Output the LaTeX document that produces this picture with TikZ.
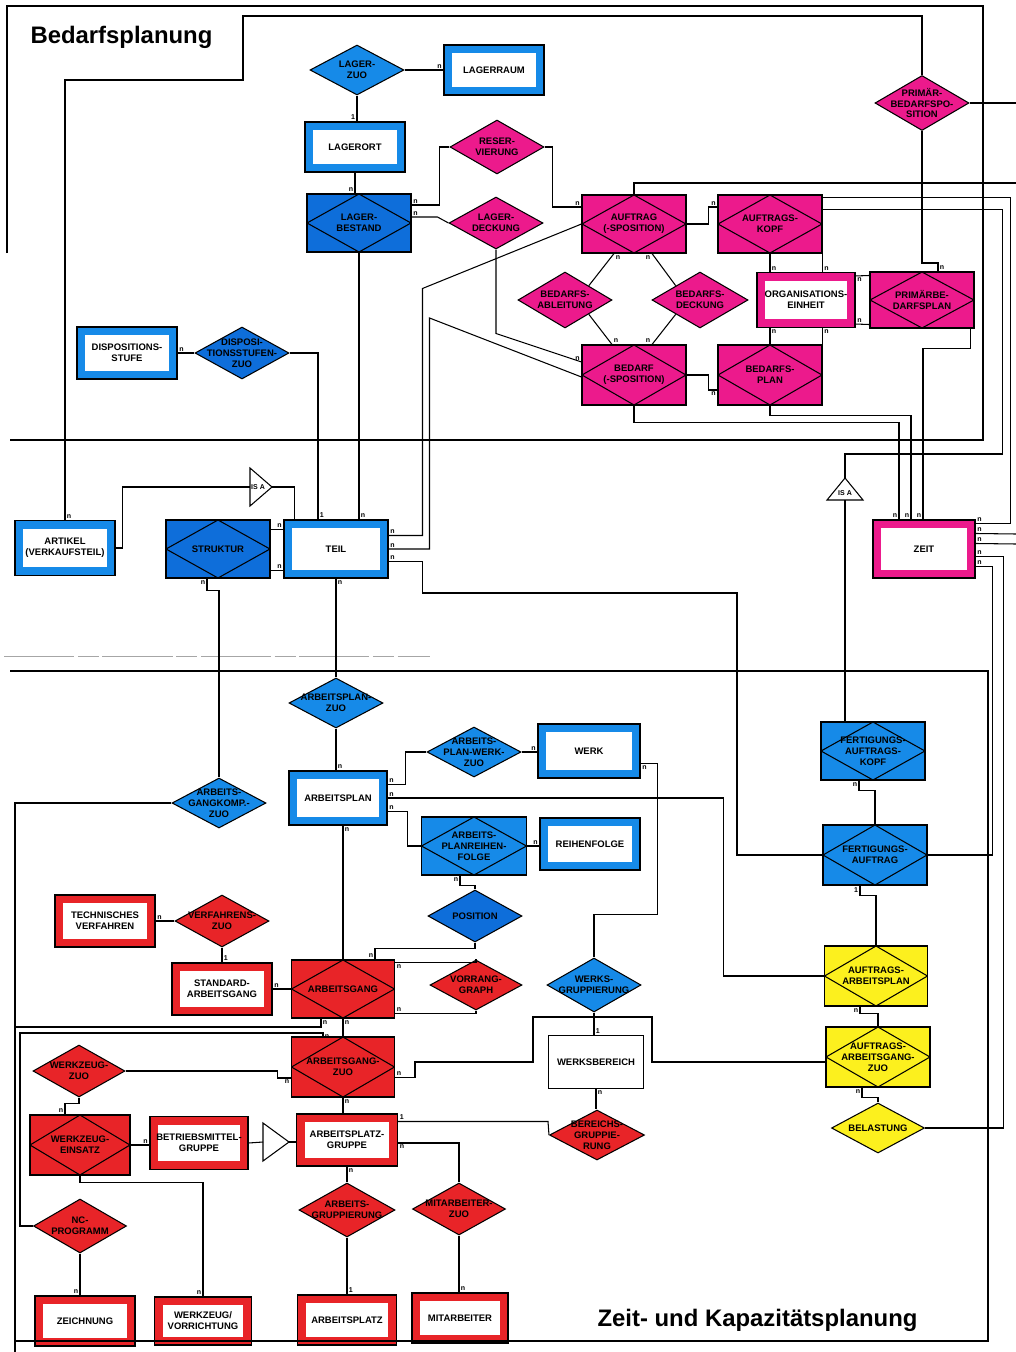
\documentclass[tikz,border=0pt]{standalone}
\usepackage{fontspec}
\setmainfont{Liberation Sans}
\usetikzlibrary{calc,shapes.geometric}
\definecolor{erblue}{RGB}{22,138,232}
\definecolor{erdarkblue}{RGB}{14,110,218}
\definecolor{ermagenta}{RGB}{236,26,140}
\definecolor{erred}{RGB}{232,36,40}
\definecolor{eryellow}{RGB}{252,240,30}
\newcommand{\erfont}{\bfseries\fontsize{5.4}{6.2}\selectfont}
\newcommand{\cardfont}{\bfseries\fontsize{4}{4}\selectfont}

\begin{document}
\begin{tikzpicture}[x=.02cm,y=-.02cm,line width=.6pt,
    entity/.style={draw=black,fill=white,line width=.6pt,minimum width=2cm,minimum height=1.06cm,inner sep=0pt,font=\erfont,align=center,
      path picture={\draw[#1,line width=9.5pt] (path picture bounding box.south west) rectangle (path picture bounding box.north east);}},
    relent/.style={draw=black,fill=#1,line width=.6pt,minimum width=2.08cm,minimum height=1.16cm,inner sep=0pt,font=\erfont,align=center,
      path picture={\draw[black,line width=.6pt] (path picture bounding box.north) -- (path picture bounding box.east)
        -- (path picture bounding box.south) -- (path picture bounding box.west) -- cycle;}},
    rel/.style={diamond,draw=black,fill=#1,line width=.6pt,minimum width=1.88cm,minimum height=1.04cm,inner sep=0pt},
    lbl/.style={font=\erfont,align=center,inner sep=0pt},
    card/.style={font=\cardfont,inner sep=.8pt},
    frame/.style={line width=1.1pt},
    title/.style={font=\bfseries\fontsize{13.6}{15}\selectfont,anchor=base west,inner sep=0pt}]
  \useasboundingbox (0,0) rectangle (1016,1352);

  % Bedarfsplanung
  \node[title] (titlebedarf) at (30,43) {Bedarfsplanung};
  \node[rel=erblue,minimum height=1cm,label={[lbl]center:{LAGER-\\ZUO}}] (lagerzuo) at (357,70) {};
  \node[entity=erblue,minimum height=1cm] (lagerraum) at (494,70) {LAGERRAUM};
  \node[entity=erblue,minimum height=1cm] (lagerort) at (355,147) {LAGERORT};
  \node[relent=erdarkblue] (lagerbestand) at (359,223) {LAGER-\\BESTAND};
  \node[rel=ermagenta,minimum height=1.08cm,label={[lbl]center:{RESER-\\VIERUNG}}] (reservierung) at (497,147) {};
  \node[rel=ermagenta,label={[lbl]center:{LAGER-\\DECKUNG}}] (lagerdeckung) at (496,223) {};
  \node[relent=ermagenta] (auftragpos) at (634,224) {AUFTRAG\\(-SPOSITION)};
  \node[relent=ermagenta] (auftragskopf) at (770,224) {AUFTRAGS-\\KOPF};
  \node[rel=ermagenta,minimum height=1.1cm,label={[lbl]center:{PRIMÄR-\\BEDARFSPO-\\SITION}}] (primpos) at (922,103) {};
  \node[rel=ermagenta,minimum height=1.12cm,label={[lbl]center:{BEDARFS-\\ABLEITUNG}}] (ableitung) at (565,300) {};
  \node[rel=ermagenta,minimum width=1.92cm,minimum height=1.12cm,label={[lbl]center:{BEDARFS-\\DECKUNG}}] (deckung) at (700,300) {};
  \node[entity=ermagenta,minimum width=1.96cm,minimum height=1.1cm] (orgeinheit) at (806,300) {ORGANISATIONS-\\EINHEIT};
  \node[relent=ermagenta,minimum height=1.12cm] (primplan) at (922,300) {PRIMÄRBE-\\DARFSPLAN};
  \node[relent=ermagenta,minimum height=1.2cm] (bedarfpos) at (634,375) {BEDARF\\(-SPOSITION)};
  \node[relent=ermagenta,minimum height=1.2cm] (bedarfsplan) at (770,375) {BEDARFS-\\PLAN};
  \node[entity=erblue,minimum height=1.04cm] (dispostufe) at (127,353) {DISPOSITIONS-\\STUFE};
  \node[rel=erdarkblue,label={[lbl]center:{DISPOSI-\\TIONSSTUFEN-\\ZUO}}] (dispozuo) at (242,353) {};

  % Teil, Artikel, Zeit
  \node[entity=erblue,minimum height=1.1cm] (artikel) at (65,548) {ARTIKEL\\(VERKAUFSTEIL)};
  \node[relent=erdarkblue] (struktur) at (218,549) {STRUKTUR};
  \node[entity=erblue,minimum width=2.08cm,minimum height=1.16cm] (teil) at (336,549) {TEIL};
  \node[entity=ermagenta,minimum width=2.04cm,minimum height=1.16cm] (zeit) at (924,549) {ZEIT};
  \coordinate (isaoneleft) at (250,487);
  \coordinate (isaoneright) at (272,487);
  \draw[fill=white] (250,468) -- (isaoneright) -- (250,506) -- cycle;
  \node[card] (isaonetxt) at (258,487) {IS A};
  \coordinate (isatwotop) at (845,478);
  \coordinate (isatwobot) at (845,500);
  \draw[fill=white] (827,500) -- (isatwotop) -- (863,500) -- cycle;
  \node[card] (isatwotxt) at (845,493) {IS A};

  % Zeit- und Kapazitaetsplanung
  \node[title] (titlezeit) at (597,1326) {Zeit- und Kapazitätsplanung};
  \node[rel=erblue,minimum height=1cm,label={[lbl]center:{ARBEITSPLAN-\\ZUO}}] (apzuo) at (336,703) {};
  \node[entity=erblue,minimum width=1.96cm,minimum height=1.08cm] (arbeitsplan) at (338,798) {ARBEITSPLAN};
  \node[rel=erblue,minimum height=1cm,label={[lbl]center:{ARBEITS-\\PLAN-WERK-\\ZUO}}] (apwerkzuo) at (474,752) {};
  \node[entity=erblue,minimum width=2.04cm,minimum height=1.08cm] (werk) at (589,751) {WERK};
  \node[relent=erblue,minimum width=2.1cm] (apreihenfolge) at (474,846) {ARBEITS-\\PLANREIHEN-\\FOLGE};
  \node[entity=erblue,minimum height=1.04cm] (reihenfolge) at (590,844) {REIHENFOLGE};
  \node[rel=erdarkblue,label={[lbl]center:{POSITION}}] (position) at (475,916) {};
  \node[rel=erblue,minimum height=1cm,label={[lbl]center:{ARBEITS-\\GANGKOMP.-\\ZUO}}] (agkompzuo) at (219,803) {};
  \node[entity=erred,minimum height=1.04cm] (techverf) at (105,921) {TECHNISCHES\\VERFAHREN};
  \node[rel=erred,label={[lbl]center:{VERFAHRENS-\\ZUO}}] (verfzuo) at (222,921) {};
  \node[entity=erred,minimum height=1.04cm] (stdag) at (222,989) {STANDARD-\\ARBEITSGANG};
  \node[relent=erred,minimum width=2.06cm] (arbeitsgang) at (343,989) {ARBEITSGANG};
  \node[rel=erred,minimum width=1.84cm,minimum height=1cm,label={[lbl]center:{VORRANG-\\GRAPH}}] (vorrang) at (476,985) {};
  \node[rel=erblue,minimum height=1.08cm,label={[lbl]center:{WERKS-\\GRUPPIERUNG}}] (werksgrp) at (594,985) {};
  \node[draw,fill=white,line width=.6pt,minimum width=1.9cm,minimum height=1.06cm,font=\erfont] (werksbereich) at (596,1062) {WERKSBEREICH};
  \node[relent=erred,minimum width=2.06cm,minimum height=1.2cm] (agzuo) at (343,1067) {ARBEITSGANG-\\ZUO};
  \node[rel=erred,minimum width=1.84cm,label={[lbl]center:{WERKZEUG-\\ZUO}}] (werkzeugzuo) at (79,1071) {};
  \node[relent=erred,minimum width=2cm,minimum height=1.2cm] (werkzeugeinsatz) at (80,1145) {WERKZEUG-\\EINSATZ};
  \node[entity=erred,minimum width=1.96cm] (bmgruppe) at (199,1143) {BETRIEBSMITTEL-\\GRUPPE};
  \coordinate (isathreeleft) at (263,1142);
  \coordinate (isathreeright) at (289,1142);
  \draw[fill=white] (263,1123) -- (isathreeright) -- (263,1161) -- cycle;
  \node[entity=erred,minimum width=2.02cm,minimum height=1.04cm] (apgruppe) at (347,1140) {ARBEITSPLATZ-\\GRUPPE};
  \node[rel=erred,minimum width=1.9cm,minimum height=1cm,label={[lbl]center:{BEREICHS-\\GRUPPIE-\\RUNG}}] (bereichsgrp) at (597,1135) {};
  \node[rel=erred,minimum width=1.92cm,minimum height=1.08cm,label={[lbl]center:{ARBEITS-\\GRUPPIERUNG}}] (arbgrp) at (347,1210) {};
  \node[rel=erred,minimum width=1.86cm,label={[lbl]center:{MITARBEITER-\\ZUO}}] (mitzuo) at (459,1209) {};
  \node[rel=erred,minimum width=1.86cm,minimum height=1.08cm,label={[lbl]center:{NC-\\PROGRAMM}}] (ncprog) at (80,1226) {};
  \node[entity=erred,minimum height=1cm] (zeichnung) at (85,1321) {ZEICHNUNG};
  \node[entity=erred,minimum width=1.94cm,minimum height=.96cm] (werkzeugvor) at (203,1321) {WERKZEUG/\\VORRICHTUNG};
  \node[entity=erred,minimum width=1.98cm,minimum height=1cm] (arbeitsplatz) at (347,1320) {ARBEITSPLATZ};
  \node[entity=erred,minimum width=1.92cm,minimum height=1cm] (mitarbeiter) at (460,1318) {MITARBEITER};
  \node[relent=erblue] (fakopf) at (873,751) {FERTIGUNGS-\\AUFTRAGS-\\KOPF};
  \node[relent=erblue,minimum height=1.2cm] (fauftrag) at (875,855) {FERTIGUNGS-\\AUFTRAG};
  \node[relent=eryellow,minimum width=2.06cm,minimum height=1.2cm] (aarbplan) at (876,976) {AUFTRAGS-\\ARBEITSPLAN};
  \node[relent=eryellow,minimum height=1.2cm] (aagzuo) at (878,1057) {AUFTRAGS-\\ARBEITSGANG-\\ZUO};
  \node[rel=eryellow,minimum width=1.86cm,minimum height=1cm,label={[lbl]center:{BELASTUNG}}] (belastung) at (878,1128) {};

  % lines leaving the sheet
  \coordinate (offauftrag) at (1016,183);
  \coordinate (offprim) at (1016,103);
  \coordinate (offzeita) at (1016,534);
  \coordinate (offzeitb) at (1016,544);

  % frames
  \draw[frame] (7,253) -- (7,6) -- (983,6) -- (983,440) -- (10,440);
  \draw[frame] (10,671) -- (988,671) -- (988,1341) -- (15,1341);
  \draw[frame] (15,1027) -- (15,1352);
  \draw[black!35,line width=.4pt,dash pattern=on 40pt off 2pt on 12pt off 2pt] (4,656) -- (430,656);

  % relationships, Bedarfsplanung
  \draw (lagerzuo.east) -- (lagerzuo.east -| lagerraum.west) node[card,above left]{n};
  \draw (lagerzuo.south) -- (lagerzuo.south |- lagerort.north) node[card,above left]{1};
  \draw (lagerort.south) -- (lagerort.south |- lagerbestand.north) node[card,above left]{n};
  \draw (reservierung.west) -- ++(-10,0) |- ($(lagerbestand.east)+(0,-18)$) node[card,above right]{n};
  \draw (lagerdeckung.west) -- ++(-11,-6) -- ($(lagerbestand.east)+(0,-6)$) node[card,above right]{n};
  \draw (reservierung.east) -- ++(8,0) |- ($(auftragpos.west)+(0,-17)$) node[card,above left]{n};
  \draw (auftragpos.east) -- ++(22,0) |- ($(auftragskopf.west)+(0,-17)$) node[card,above left]{n};
  \draw (auftragskopf.south) -- (auftragskopf.south |- orgeinheit.north) node[card,above right]{n};
  \draw (auftragskopf.south east) -- (auftragskopf.south east |- orgeinheit.north) node[card,above right]{n};
  \draw (bedarfsplan.north) -- (bedarfsplan.north |- orgeinheit.south) node[card,below right]{n};
  \draw (bedarfsplan.north east) -- (bedarfsplan.north east |- orgeinheit.south) node[card,below right]{n};
  \draw ($(orgeinheit.north east)+(0,4)$) node[card,below right]{n} -- ($(primplan.north west)+(0,4)$);
  \draw ($(orgeinheit.south east)+(0,-4)$) node[card,above right]{n} -- ($(primplan.south west)+(0,-4)$);
  \draw (primpos.south) -- ++(0,132) -| ($(primplan.north)+(16,0)$) node[card,above right]{n};
  \draw ($(auftragpos.south)+(-20,0)$) node[card,below right]{n} -- (ableitung.north east);
  \draw ($(auftragpos.south)+(18,0)$) node[card,below left]{n} -- (deckung.north west);
  \draw (ableitung.south east) -- ($(bedarfpos.north)+(-22,0)$) node[card,above right]{n};
  \draw (deckung.south west) -- ($(bedarfpos.north)+(18,0)$) node[card,above left]{n};
  \draw (bedarfpos.east) -- ++(22,0) |- ($(bedarfsplan.west)+(0,15)$) node[card,below left]{n};
  \draw (lagerdeckung.south) -- ++(0,84) -- ($(bedarfpos.west)+(0,-13)$) node[card,above left]{n};
  \draw (dispostufe.east) node[card,above right]{n} -- (dispostufe.east -| dispozuo.west);
  \draw (auftragpos.north) |- (offauftrag);
  \draw (primpos.east) -- (offprim);

  % Teil, Artikel, Zeit
  \draw (artikel.north) node[card,above right]{n} |- (243,80) -- (243,16) -| (primpos.north);
  \draw (artikel.east) -- ++(7,0) |- (isaoneleft);
  \draw (isaoneright) -| ($(teil.north west)+(11,0)$);
  \draw (dispozuo.east) -| ($(teil.north)+(-18,0)$) node[card,above right]{1};
  \draw (lagerbestand.south) -- (lagerbestand.south |- teil.north) node[card,above right]{n};
  \draw ($(struktur.north east)+(0,10)$) -- ($(teil.north west)+(0,10)$) node[card,above left]{n};
  \draw ($(struktur.south east)+(0,-8)$) -- ($(teil.south west)+(0,-8)$) node[card,above left]{n};
  \draw ($(teil.north east)+(0,16)$) node[card,above right]{n} -- ++(34,0) -- ++(0,-247) -- (auftragpos.west);
  \draw (teil.east) node[card,above right]{n} -- ++(41,0) -- ++(0,-231) -- ($(bedarfpos.west)+(0,2)$);
  \draw ($(teil.south east)+(0,-17)$) node[card,above right]{n} -- ++(34,0) |- (737,593) |- (fauftrag.west);
  \draw (bedarfpos.south) -- ++(0,17) -| ($(zeit.north)+(-25,0)$) node[card,above left]{n};
  \draw (bedarfsplan.south) -- ++(0,10) -| ($(zeit.north)+(-13,0)$) node[card,above left]{n};
  \draw ($(primplan.south east)+(-4,0)$) -- ++(0,20) -| ($(zeit.north)+(-1,0)$) node[card,above left]{n};
  \draw ($(auftragskopf.north east)+(0,3)$) -- ++(188,0) |- ($(zeit.north east)+(0,4)$) node[card,above right]{n};
  \draw ($(auftragskopf.north east)+(0,15)$) -- ++(180,0) |- ($(isatwotop)+(0,-24)$) -- (isatwotop);
  \draw ($(zeit.north east)+(0,14)$) node[card,above right]{n} -- (offzeita);
  \draw ($(zeit.north east)+(0,24)$) node[card,above right]{n} -- (offzeitb);
  \draw ($(zeit.south east)+(0,-22)$) node[card,above right]{n} -- ++(28,0) |- (belastung.east);
  \draw ($(zeit.south east)+(0,-12)$) node[card,above right]{n} -- ++(17,0) |- (fauftrag.east);

  % relationships, Zeit- und Kapazitaetsplanung
  \draw (struktur.south) ++(-11,0) node[card,below left]{n} -- ++(0,12) -| (agkompzuo.north);
  \draw (teil.south) node[card,below right]{n} -- (teil.south |- apzuo.north);
  \draw (apzuo.south) -- (apzuo.south |- arbeitsplan.north) node[card,above right]{n};
  \draw ($(arbeitsplan.north east)+(0,14)$) node[card,above right]{n} -- ++(18,0) |- (apwerkzuo.west);
  \draw (arbeitsplan.east) node[card,above right]{n} -- ++(336,0) |- (aarbplan.west);
  \draw ($(arbeitsplan.south east)+(0,-14)$) node[card,above right]{n} -- ++(20,0) |- (apreihenfolge.west);
  \draw (arbeitsgang.north) -- (arbeitsgang.north |- arbeitsplan.south) node[card,below right]{n};
  \draw (apwerkzuo.east) -- (apwerkzuo.east -| werk.west) node[card,above left]{n};
  \draw (apreihenfolge.east) -- (apreihenfolge.east -| reihenfolge.west) node[card,above left]{n};
  \draw ($(apreihenfolge.south)+(-14,0)$) node[card,below left]{n} -- ++(0,10) -| (position.north);
  \draw (position.south) -- ++(0,6) -| ($(arbeitsgang.north east)+(-20,0)$) node[card,above left]{n};
  \draw ($(arbeitsgang.north east)+(0,3)$) node[card,below right]{n} -| (vorrang.north);
  \draw ($(arbeitsgang.south east)+(0,-5)$) node[card,above right]{n} -| (vorrang.south);
  \draw ($(werk.south east)+(0,-15)$) node[card,below right]{n} -- ++(17,0) |- ($(werksgrp.north)+(0,-43)$) -- (werksgrp.north);
  \draw (werksgrp.south) -- (werksgrp.south |- werksbereich.north) node[card,above right]{1};
  \draw ($(agzuo.south east)+(0,-20)$) node[card,above right]{n} -- ++(20,0) |- (533,1062) |- (652,1017) |- ($(aagzuo.west)+(0,5)$);
  \draw (werksbereich.south) node[card,below right]{n} -- (werksbereich.south |- bereichsgrp.north);
  \draw ($(apgruppe.north east)+(0,8)$) node[card,above right]{1} -- ++(150,0) -- (bereichsgrp.west);
  \draw ($(apgruppe.east)+(0,3)$) node[card,below right]{n} -| (mitzuo.north);
  \draw (apgruppe.south) node[card,below right]{n} -- (apgruppe.south |- arbgrp.north);
  \draw (arbgrp.south) -- (arbgrp.south |- arbeitsplatz.north) node[card,above right]{1};
  \draw (mitzuo.south) -- (mitzuo.south |- mitarbeiter.north) node[card,above right]{n};
  \draw (arbeitsgang.south) node[card,below right]{n} -- (agzuo.north);
  \draw (agzuo.south) node[card,below right]{n} -- (agzuo.south |- apgruppe.north);
  \draw (stdag.east) node[card,above right]{n} -- (arbeitsgang.west);
  \draw (verfzuo.south) -- (stdag.north) node[card,above right]{1};
  \draw (techverf.east) node[card,above right]{n} -- (verfzuo.west);
  \draw (agkompzuo.west) -| (15,1027) -| ($(arbeitsgang.south west)+(30,0)$) node[card,below right]{n};
  \draw (ncprog.west) -| (20,1033) -| ($(agzuo.north west)+(32,0)$) node[card,right]{n};
  \draw (werkzeugzuo.east) -- ++(152,0) |- ($(agzuo.west)+(0,11)$) node[card,below left]{n};
  \draw (werkzeugzuo.south) -- ++(0,6) -| ($(werkzeugeinsatz.north)+(-15,0)$) node[card,above left]{n};
  \draw (werkzeugeinsatz.east) -- (werkzeugeinsatz.east -| bmgruppe.west) node[card,above left]{n};
  \draw (bmgruppe.east) -- (isathreeleft);
  \draw (isathreeright) -- (isathreeright -| apgruppe.west);
  \draw (werkzeugeinsatz.south) -- ++(0,7) -| (werkzeugvor.north) node[card,above left]{n};
  \draw (ncprog.south) -- (ncprog.south |- zeichnung.north) node[card,above left]{n};
  \draw (isatwobot) -- (isatwobot |- fakopf.north);
  \draw ($(fakopf.south)+(-14,0)$) node[card,below left]{n} -- ++(0,10) -| (fauftrag.north);
  \draw ($(fauftrag.south)+(-15,0)$) node[card,below left]{1} -- ++(0,10) -| (aarbplan.north);
  \draw ($(aarbplan.south)+(-16,0)$) node[card,below left]{n} -- ++(0,7) -| (aagzuo.north);
  \draw ($(aagzuo.south)+(-16,0)$) node[card,below left]{n} -- ++(0,10) -| (belastung.north);
\end{tikzpicture}
\end{document}
